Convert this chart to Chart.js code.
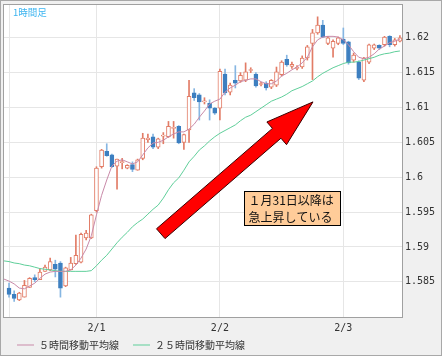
<!DOCTYPE html>
<html><head><meta charset="utf-8">
<script src="https://cdn.jsdelivr.net/npm/chart.js@4.4.1/dist/chart.umd.min.js"></script>
<style>html,body{margin:0;padding:0;background:#fff;}canvas{display:block;}</style>
</head><body>
<canvas id="c" width="444" height="360"></canvas>
<script>
// ---- text ----
const chartTitle = '1時間足';
const ma5Label = '５時間移動平均線';
const ma25Label = '２５時間移動平均線';
const noteLines = ['１月31日以降は', '急上昇している'];

// ---- categories: hours relative to 2/1 00:00 (1/31 06:00 ... 2/3 11:00) ----
const hours = Array.from({length: 78}, (_, i) => i - 18);

// ---- x tick labels (day boundaries) ----
const xTickHours = [-17, 0, 24, 48];
const xTickLabels = ['', '2/1', '2/2', '2/3'];

// ---- y tick labels ----
const yTicks = [1.585, 1.59, 1.595, 1.6, 1.605, 1.61, 1.615, 1.62];
const yTickLabels = ['1.585', '1.59', '1.595', '1.6', '1.605', '1.61', '1.615', '1.62'];

// ---- candles (first slot has no candle) ----
const open = [null,
 1.5841,1.5832,1.5824,1.5828,1.5842,1.5856,1.5853,1.5865,1.5867,1.5875,
 1.5877,1.5844,1.5867,1.5876,1.5878,1.5913,1.5913,1.5952,1.6015,1.6037,
 1.6032,1.6016,1.6021,1.6013,1.6018,1.6010,1.6027,1.6054,1.6058,1.6043,
 1.6059,1.6058,1.6070,1.6073,1.6050,1.6068,1.6121,1.6118,1.6108,1.6106,
 1.6099,1.6099,1.6148,1.6122,1.6139,1.6138,1.6139,1.6153,1.6148,1.6133,
 1.6135,1.6129,1.6132,1.6147,1.6169,1.6159,1.6156,1.6158,1.6171,1.6192,
 1.6207,1.6218,1.6192,1.6185,1.6192,1.6198,1.6194,1.6168,1.6165,1.6139,
 1.6165,1.6185,1.6189,1.6190,1.6202,1.6190,1.6195];
const high = [null,
 1.5848,1.5837,1.5835,1.5852,1.5856,1.5860,1.5869,1.5874,1.5884,1.5881,
 1.5879,1.5871,1.5885,1.5917,1.5920,1.5924,1.5947,1.6015,1.6040,1.6048,
 1.6033,1.6026,1.6027,1.6018,1.6022,1.6026,1.6063,1.6062,1.6062,1.6056,
 1.6064,1.6080,1.6080,1.6074,1.6062,1.6139,1.6127,1.6120,1.6114,1.6111,
 1.6100,1.6155,1.6155,1.6135,1.6160,1.6150,1.6164,1.6157,1.6150,1.6136,
 1.6137,1.6140,1.6158,1.6167,1.6175,1.6165,1.6160,1.6174,1.6189,1.6212,
 1.6230,1.6225,1.6202,1.6197,1.6201,1.6214,1.6195,1.6178,1.6167,1.6172,
 1.6191,1.6191,1.6190,1.6202,1.6203,1.6199,1.6203];
const low = [null,
 1.5828,1.5822,1.5823,1.5828,1.5842,1.5850,1.5853,1.5865,1.5866,1.5857,
 1.5828,1.5843,1.5867,1.5875,1.5877,1.5910,1.5912,1.5950,1.6013,1.6030,
 1.6014,1.5983,1.6012,1.6012,1.6008,1.6010,1.6025,1.6050,1.6041,1.6041,
 1.6048,1.6057,1.6056,1.6048,1.6040,1.6050,1.6110,1.6082,1.6105,1.6082,
 1.6090,1.6082,1.6118,1.6118,1.6128,1.6136,1.6137,1.6150,1.6129,1.6131,
 1.6125,1.6127,1.6130,1.6145,1.6159,1.6156,1.6154,1.6156,1.6168,1.6140,
 1.6205,1.6200,1.6190,1.6172,1.6190,1.6190,1.6162,1.6165,1.6140,1.6137,
 1.6163,1.6183,1.6183,1.6188,1.6187,1.6188,1.6194];
const close = [null,
 1.5832,1.5826,1.5834,1.5845,1.5855,1.5853,1.5864,1.5871,1.5879,1.5868,
 1.5841,1.5870,1.5877,1.5888,1.5918,1.5920,1.5946,1.6013,1.6039,1.6031,
 1.6015,1.6026,1.6022,1.6017,1.6011,1.6025,1.6056,1.6056,1.6043,1.6055,
 1.6060,1.6073,1.6071,1.6049,1.6061,1.6116,1.6114,1.6108,1.6109,1.6099,
 1.6092,1.6152,1.6121,1.6132,1.6135,1.6146,1.6151,1.6154,1.6131,1.6134,
 1.6128,1.6139,1.6151,1.6165,1.6161,1.6162,1.6157,1.6171,1.6187,1.6207,
 1.6218,1.6201,1.6200,1.6195,1.6200,1.6192,1.6164,1.6175,1.6142,1.6171,
 1.6190,1.6190,1.6185,1.6201,1.6190,1.6197,1.6200];

// ---- moving averages ----
const ma5 = [
 1.5854,1.5851,1.5847,1.5841,1.5840,1.5844,1.5848,1.5855,1.5861,1.5864,
 1.5865,1.5865,1.5865,1.5867,1.5874,1.5884,1.5897,1.5916,1.5946,1.5974,
 1.5996,1.6016,1.6023,1.6025,1.6022,1.6019,1.6022,1.6032,1.6042,1.6049,
 1.6050,1.6053,1.6058,1.6062,1.6065,1.6065,1.6069,1.6076,1.6086,1.6095,
 1.6105,1.6109,1.6112,1.6122,1.6128,1.6132,1.6137,1.6139,1.6141,1.6141,
 1.6137,1.6134,1.6134,1.6138,1.6145,1.6149,1.6154,1.6158,1.6164,1.6172,
 1.6187,1.6197,1.6201,1.6202,1.6202,1.6201,1.6197,1.6190,1.6180,1.6172,
 1.6170,1.6172,1.6177,1.6184,1.6188,1.6193,1.6195,1.6198];
const ma25 = [
 1.5880,1.5879,1.5877,1.5876,1.5874,1.5873,1.5871,1.5869,1.5868,1.5867,
 1.5866,1.5865,1.5865,1.5865,1.5865,1.5865,1.5865,1.5866,1.5873,1.5881,
 1.5888,1.5897,1.5906,1.5914,1.5921,1.5929,1.5935,1.5940,1.5947,1.5954,
 1.5960,1.5970,1.5982,1.5992,1.5999,1.6010,1.6022,1.6030,1.6039,1.6045,
 1.6052,1.6058,1.6063,1.6067,1.6071,1.6075,1.6081,1.6086,1.6089,1.6094,
 1.6099,1.6104,1.6109,1.6112,1.6115,1.6119,1.6124,1.6127,1.6130,1.6134,
 1.6138,1.6144,1.6149,1.6153,1.6157,1.6160,1.6163,1.6165,1.6165,1.6166,
 1.6168,1.6170,1.6172,1.6175,1.6177,1.6178,1.6180,1.6181];

// ---- annotation anchors (data coordinates) ----
const arrowFrom = {x: 12.5, y: 1.5919};
const arrowTo = {x: 42.1, y: 1.6108};
const noteBox = {x0: 28.7, x1: 47.3, y0: 1.5980, y1: 1.5932};

// ---- axis ranges ----
const xMin = -18.17, xMax = 59.6;
const yMin = 1.57981, yMax = 1.62484;

const UP = '#e27c66', DOWN = '#3d7fc0', DOWN_WICK = '#86b6e2';

const wickData = [], bodyData = [];
hours.forEach((h, i) => {
  if (open[i] == null) return;
  const up = close[i] >= open[i];
  wickData.push({x: h, y: [low[i], high[i]], up});
  bodyData.push({x: h, y: [open[i], close[i]], up});
});

const decor = {
  id: 'decor',
  beforeDraw(chart) {
    const {ctx, chartArea: a} = chart;
    ctx.save();
    ctx.fillStyle = '#f0f0f0';
    ctx.fillRect(0, 0, 442, 356);
    ctx.strokeStyle = '#a8a8a8';
    ctx.lineWidth = 1;
    ctx.strokeRect(0.5, 0.5, 441, 355);
    ctx.fillStyle = '#ffffff';
    ctx.fillRect(a.left, a.top, a.right - a.left, a.bottom - a.top);
    ctx.restore();
  },
  afterDatasetsDraw(chart) {
    const {ctx} = chart;
    const xs = chart.scales.x, ys = chart.scales.y;
    // arrow
    const x1 = xs.getPixelForValue(arrowFrom.x), y1 = ys.getPixelForValue(arrowFrom.y);
    const x2 = xs.getPixelForValue(arrowTo.x), y2 = ys.getPixelForValue(arrowTo.y);
    const dx = x2 - x1, dy = y2 - y1, len = Math.hypot(dx, dy);
    const ux = dx / len, uy = dy / len, nx = -uy, ny = ux;
    const sw = 6.5, hw = 15, hl = 48;
    const bx = x2 - ux * hl, by = y2 - uy * hl;
    ctx.save();
    ctx.beginPath();
    ctx.moveTo(x1 + nx * sw, y1 + ny * sw);
    ctx.lineTo(bx + nx * sw, by + ny * sw);
    ctx.lineTo(bx + nx * hw, by + ny * hw);
    ctx.lineTo(x2, y2);
    ctx.lineTo(bx - nx * hw, by - ny * hw);
    ctx.lineTo(bx - nx * sw, by - ny * sw);
    ctx.lineTo(x1 - nx * sw, y1 - ny * sw);
    ctx.closePath();
    ctx.fillStyle = '#ff0000';
    ctx.fill();
    ctx.strokeStyle = '#3a0000';
    ctx.lineWidth = 1;
    ctx.stroke();
    // note box
    const l = Math.round(xs.getPixelForValue(noteBox.x0)) + 0.5;
    const r = Math.round(xs.getPixelForValue(noteBox.x1)) + 0.5;
    const t = Math.round(ys.getPixelForValue(noteBox.y0)) + 0.5;
    const b = Math.round(ys.getPixelForValue(noteBox.y1)) + 0.5;
    ctx.fillStyle = '#ffcc99';
    ctx.fillRect(l, t, r - l, b - t);
    ctx.strokeStyle = '#000000';
    ctx.strokeRect(l, t, r - l, b - t);
    ctx.fillStyle = '#111111';
    ctx.font = '12px "Noto Sans CJK JP"';
    ctx.textBaseline = 'middle';
    ctx.textAlign = 'left';
    const lh = (b - t) / 2;
    noteLines.forEach((s, i) => ctx.fillText(s, l + 4, t + lh * i + lh / 2 + 0.5));
    ctx.restore();
  },
  afterDraw(chart) {
    const {ctx, chartArea: a} = chart;
    ctx.save();
    ctx.strokeStyle = '#a0a0a0';
    ctx.lineWidth = 1;
    ctx.strokeRect(a.left + 0.5, a.top + 0.5, a.right - a.left - 1, a.bottom - a.top - 1);
    ctx.fillStyle = '#3cb4f0';
    ctx.font = '9.5px "Noto Sans CJK JP"';
    ctx.textBaseline = 'middle';
    ctx.fillText(chartTitle, a.left + 10, a.top + 8);
    ctx.restore();
  }
};

new Chart(document.getElementById('c'), {
  type: 'line',
  data: {
    datasets: [
      {type: 'line', label: ma5Label, data: hours.map((h, i) => ({x: h, y: ma5[i]})),
       borderColor: '#c98aa9', backgroundColor: '#c98aa9', borderWidth: 1, pointRadius: 0, tension: 0, order: 0},
      {type: 'line', label: ma25Label, data: hours.map((h, i) => ({x: h, y: ma25[i]})),
       borderColor: '#5fcf9a', backgroundColor: '#5fcf9a', borderWidth: 1, pointRadius: 0, tension: 0, order: 1},
      {type: 'bar', label: 'wick', data: wickData, grouped: false, barThickness: 1,
       backgroundColor: c => (c.raw && c.raw.up) ? UP : DOWN_WICK, borderWidth: 0, order: 3},
      {type: 'bar', label: 'body', data: bodyData, grouped: false, barThickness: 4, minBarLength: 1,
       backgroundColor: c => (c.raw && c.raw.up) ? '#ffffff' : DOWN,
       borderColor: c => (c.raw && c.raw.up) ? UP : DOWN,
       borderWidth: 1, borderSkipped: false, order: 2}
    ]
  },
  options: {
    responsive: false,
    devicePixelRatio: 1,
    animation: false,
    events: [],
    layout: {padding: {left: 3, top: 4, right: 0, bottom: 0}},
    scales: {
      x: {
        type: 'linear', min: xMin, max: xMax, offset: false,
        afterBuildTicks: a => { a.ticks = xTickHours.map(v => ({value: v})); },
        afterFit: a => { a.height = 8; a.paddingLeft = 0; a.paddingRight = 0; },
        grid: {color: '#e6e6e6', drawTicks: false, offset: false},
        border: {display: false},
        ticks: {autoSkip: false, maxRotation: 0, mirror: true, padding: -16, color: '#333333',
                font: {family: 'DejaVu Sans Mono', size: 10},
                callback: (v, i) => xTickLabels[i]}
      },
      y: {
        type: 'linear', position: 'right', min: yMin, max: yMax,
        afterBuildTicks: a => { a.ticks = yTicks.map(v => ({value: v})); },
        afterFit: a => { a.width = 41; a.paddingTop = 0; a.paddingBottom = 0; },
        grid: {color: '#e6e6e6', drawTicks: false},
        border: {display: false},
        ticks: {padding: 2, color: '#333333', font: {family: 'DejaVu Sans Mono', size: 10},
                callback: (v, i) => yTickLabels[i]}
      }
    },
    plugins: {
      tooltip: {enabled: false},
      legend: {
        position: 'bottom', align: 'start',
        labels: {
          filter: item => item.datasetIndex < 2,
          usePointStyle: true, pointStyle: 'line', pointStyleWidth: 17, boxHeight: 10,
          padding: 14, color: '#333333',
          font: {family: '"Noto Sans CJK JP"', size: 10}
        }
      }
    }
  },
  plugins: [decor]
});
</script>
</body></html>
